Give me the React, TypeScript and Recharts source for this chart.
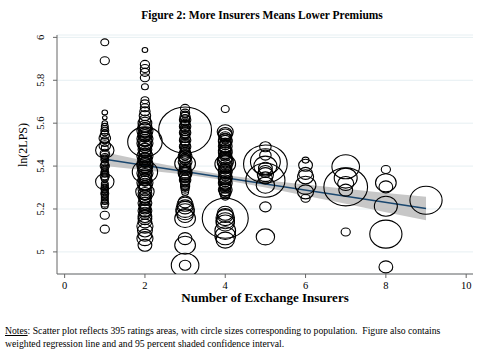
import {
  ComposedChart,
  Scatter,
  Line,
  Area,
  XAxis,
  YAxis,
  ZAxis,
  CartesianGrid,
  Label,
} from "recharts";

// ln(premium), population weight, one list per number of insurers
const areas1: [number, number][] = [
  [5.977, 12], [5.891, 16], [5.65, 6], [5.625, 4], [5.6, 6], [5.585, 9],
  [5.575, 9], [5.565, 12], [5.555, 9], [5.545, 16], [5.53, 25], [5.52, 12],
  [5.51, 16], [5.495, 25], [5.485, 9], [5.474, 64], [5.46, 16], [5.452, 16],
  [5.445, 9], [5.437, 9], [5.43, 12], [5.415, 9], [5.407, 12], [5.4, 16],
  [5.392, 9], [5.385, 9], [5.377, 9], [5.37, 12], [5.362, 9], [5.355, 16],
  [5.347, 12], [5.34, 9], [5.327, 64], [5.318, 9], [5.31, 9], [5.302, 9],
  [5.295, 12], [5.288, 9], [5.28, 9], [5.272, 12], [5.265, 9], [5.257, 9],
  [5.25, 9], [5.242, 9], [5.235, 9], [5.225, 12], [5.215, 9], [5.171, 16],
  [5.106, 16],
];
const areas2: [number, number][] = [
  [5.941, 6], [5.874, 16], [5.855, 16], [5.837, 16], [5.812, 16], [5.77, 9],
  [5.707, 12], [5.69, 16], [5.672, 16], [5.655, 20], [5.635, 25], [5.615, 25],
  [5.6, 36], [5.585, 36], [5.58, 25], [5.575, 36], [5.565, 49], [5.558, 25],
  [5.55, 36], [5.542, 36], [5.535, 25], [5.527, 49], [5.52, 36], [5.513, 225],
  [5.507, 49], [5.5, 36], [5.492, 36], [5.485, 25], [5.477, 36], [5.47, 25],
  [5.462, 25], [5.455, 36], [5.447, 49], [5.44, 25], [5.432, 36], [5.425, 36],
  [5.417, 25], [5.41, 49], [5.402, 49], [5.395, 36], [5.387, 36], [5.38, 36],
  [5.373, 121], [5.367, 49], [5.36, 36], [5.352, 36], [5.345, 25], [5.337, 36],
  [5.33, 25], [5.322, 49], [5.315, 36], [5.307, 25], [5.3, 25], [5.292, 36],
  [5.28, 64], [5.272, 36], [5.265, 25], [5.257, 36], [5.25, 25], [5.242, 25],
  [5.235, 16], [5.228, 36], [5.215, 25], [5.208, 25], [5.2, 25], [5.192, 36],
  [5.185, 25], [5.175, 25], [5.165, 36], [5.155, 36], [5.14, 36], [5.12, 49],
  [5.1, 42], [5.078, 36], [5.062, 49], [5.031, 36],
];
const areas3: [number, number][] = [
  [5.669, 16], [5.568, 529], [5.647, 16], [5.64, 12], [5.63, 20], [5.622, 16],
  [5.615, 25], [5.607, 16], [5.6, 16], [5.592, 20], [5.585, 25], [5.577, 16],
  [5.57, 16], [5.562, 20], [5.555, 25], [5.547, 16], [5.54, 16], [5.53, 20],
  [5.52, 25], [5.512, 16], [5.505, 16], [5.497, 20], [5.49, 25], [5.482, 16],
  [5.475, 16], [5.467, 20], [5.46, 25], [5.452, 25], [5.445, 36], [5.437, 25],
  [5.43, 25], [5.42, 36], [5.412, 81], [5.403, 25], [5.395, 25], [5.387, 25],
  [5.38, 25], [5.372, 36], [5.365, 36], [5.357, 25], [5.35, 25], [5.342, 20],
  [5.335, 25], [5.327, 16], [5.32, 16], [5.312, 16], [5.305, 16], [5.298, 12],
  [5.29, 12], [5.278, 9], [5.233, 36], [5.222, 49], [5.21, 49], [5.198, 64],
  [5.187, 64], [5.17, 49], [5.156, 81], [5.062, 36], [5.031, 81], [4.938, 144],
  [4.938, 25],
];
const areas4: [number, number][] = [
  [5.666, 12], [5.56, 49], [5.552, 36], [5.545, 36], [5.537, 25], [5.53, 25],
  [5.522, 36], [5.515, 36], [5.507, 25], [5.5, 25], [5.492, 36], [5.485, 25],
  [5.477, 25], [5.47, 36], [5.462, 36], [5.455, 25], [5.447, 25], [5.44, 36],
  [5.432, 36], [5.425, 49], [5.417, 49], [5.41, 81], [5.402, 36], [5.395, 25],
  [5.387, 25], [5.38, 36], [5.372, 36], [5.365, 25], [5.357, 25], [5.35, 36],
  [5.342, 36], [5.335, 25], [5.327, 25], [5.32, 36], [5.312, 25], [5.305, 25],
  [5.297, 25], [5.29, 36], [5.282, 25], [5.275, 25], [5.268, 16], [5.26, 16],
  [5.157, 400], [5.18, 49], [5.17, 49], [5.16, 64], [5.145, 64], [5.135, 64],
  [5.1, 81], [5.075, 81], [5.055, 64],
];
const areas5: [number, number][] = [
  [5.49, 25], [5.451, 25], [5.41, 361], [5.42, 169], [5.4, 100], [5.39, 36],
  [5.375, 36], [5.36, 49], [5.345, 36], [5.334, 289], [5.311, 64], [5.21, 25],
  [5.07, 64],
];
const areas6: [number, number][] = [
  [5.428, 9], [5.404, 36], [5.366, 36], [5.35, 49], [5.311, 81], [5.28, 49],
  [5.25, 16],
];
const areas7: [number, number][] = [
  [5.397, 144], [5.344, 100], [5.319, 49], [5.303, 361], [5.288, 36], [5.093, 16],
];
const areas8: [number, number][] = [
  [5.384, 16], [5.322, 81], [5.303, 36], [5.213, 100], [5.083, 196], [4.93, 36],
];
const areas9: [number, number][] = [[5.241, 196]];

const insurers = [1, 2, 3, 4, 5, 6, 7, 8, 9];
const columns = [areas1, areas2, areas3, areas4, areas5, areas6, areas7, areas8, areas9];

// weighted fit and 95% CI, read at each insurer count
const fitValues: (number | null)[] = [5.432, null, null, null, null, null, null, null, 5.202];
const ciLow = [5.4, 5.381, 5.361, 5.334, 5.3, 5.262, 5.224, 5.185, 5.147];
const ciHigh = [5.464, 5.425, 5.389, 5.358, 5.334, 5.314, 5.294, 5.275, 5.257];

const xTicks = [0, 2, 4, 6, 8, 10];
const yTicks = [5, 5.2, 5.4, 5.6, 5.8, 6];

const fitData = insurers.map((x, i) => ({
  x,
  fit: fitValues[i],
  band: [ciLow[i], ciHigh[i]],
}));

const scatterData = insurers.flatMap((x, i) =>
  columns[i].map(([y, pop]) => ({ x, y, pop }))
);

const serif = "'Liberation Serif', 'Times New Roman', serif";

const Ring = (props: any) => {
  const { cx, cy, width, size } = props;
  const r = width ? width / 2 : Math.sqrt((size || 0) / Math.PI);
  return (
    <ellipse cx={cx} cy={cy} rx={r * 1.15} ry={r} fill="none" stroke="#000" strokeWidth={1.1} />
  );
};

const YTick = (props: any) => {
  const { y, payload } = props;
  return (
    <text
      x={44}
      y={y}
      transform={`rotate(-90, 44, ${y})`}
      textAnchor="middle"
      fontSize={10.5}
      fontFamily={serif}
      fill="#000"
    >
      {payload.value}
    </text>
  );
};

const XTick = (props: any) => {
  const { x, y, payload } = props;
  return (
    <text x={x} y={y + 9} textAnchor="middle" fontSize={10.5} fontFamily={serif} fill="#000">
      {payload.value}
    </text>
  );
};

export default function App() {
  return (
    <div
      style={{
        position: "absolute",
        left: 0,
        top: 0,
        width: 500,
        height: 353,
        background: "#fff",
        fontFamily: serif,
        color: "#000",
      }}
    >
      <div
        style={{
          position: "absolute",
          left: 12,
          top: 8,
          width: 500,
          textAlign: "center",
          fontWeight: "bold",
          fontSize: 11.5,
          lineHeight: "15px",
        }}
      >
        Figure 2: More Insurers Means Lower Premiums
      </div>

      <div style={{ position: "absolute", left: 0, top: 0 }}>
        <ComposedChart
          width={500}
          height={353}
          data={fitData}
          margin={{ top: 35, right: 27, bottom: 49, left: 0 }}
        >
          <CartesianGrid horizontal vertical={false} stroke="#e6eff2" strokeWidth={1} />
          <XAxis
            type="number"
            dataKey="x"
            domain={[-0.19, 10.17]}
            ticks={xTicks}
            allowDataOverflow
            height={30}
            tickSize={4}
            tickMargin={2}
            tick={<XTick />}
            axisLine={{ stroke: "#666" }}
            tickLine={{ stroke: "#666" }}
          >
            <Label
              content={() => (
                <text x={265} y={302} textAnchor="middle" fontSize={13} fontWeight="bold" fontFamily={serif} fill="#000">
                  Number of Exchange Insurers
                </text>
              )}
            />
          </XAxis>
          <YAxis
            type="number"
            dataKey="y"
            domain={[4.897, 6.011]}
            ticks={yTicks}
            allowDataOverflow
            width={57}
            tickSize={4}
            tick={<YTick />}
            axisLine={{ stroke: "#666" }}
            tickLine={{ stroke: "#666" }}
          >
            <Label
              content={() => (
                <text x={27} y={145} transform="rotate(-90, 27, 145)" textAnchor="middle" fontSize={12} fontFamily={serif} fill="#000">
                  ln(2LPS)
                </text>
              )}
            />
          </YAxis>
          <ZAxis type="number" dataKey="pop" domain={[0, 900]} range={[0, 900 * Math.PI]} />
          <Area
            dataKey="band"
            stroke="none"
            fill="#bdbdbd"
            fillOpacity={0.85}
            isAnimationActive={false}
            activeDot={false}
          />
          <Line
            dataKey="fit"
            stroke="#1a476f"
            strokeWidth={1.5}
            dot={false}
            connectNulls
            isAnimationActive={false}
          />
          <Scatter data={scatterData} shape={<Ring />} isAnimationActive={false} />
        </ComposedChart>
      </div>

      <div
        style={{
          position: "absolute",
          left: 5,
          top: 325,
          width: 495,
          fontSize: 9.7,
          lineHeight: "12.6px",
          whiteSpace: "nowrap",
        }}
      >
        <span style={{ textDecoration: "underline" }}>Notes</span>: Scatter plot reflects 395 ratings
        areas, with circle sizes corresponding to population.&nbsp; Figure also contains
        <br />
        weighted regression line and and 95 percent shaded confidence interval.
      </div>
    </div>
  );
}
